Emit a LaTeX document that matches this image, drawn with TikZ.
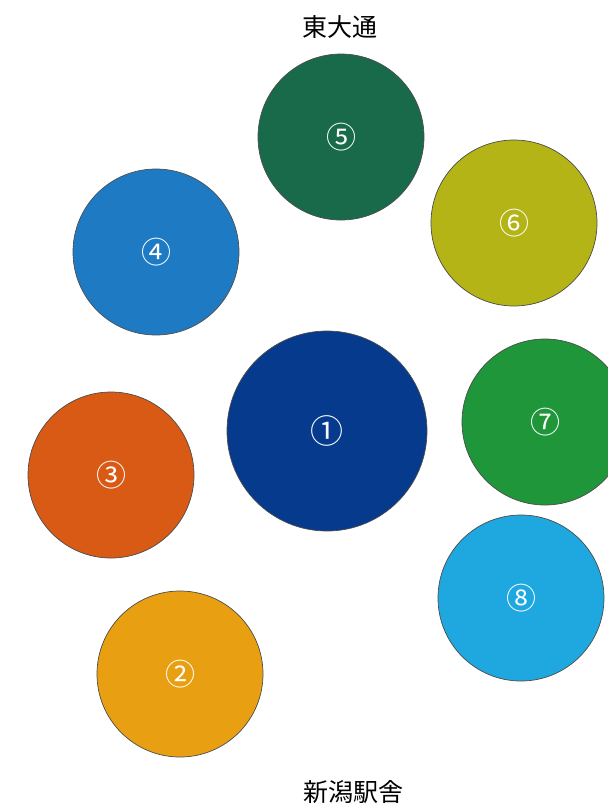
\documentclass[tikz,border=0pt]{standalone}
\usepackage{fontspec}
\setmainfont{Noto Sans CJK JP}
\definecolor{lotnavy}{HTML}{063A8C}
\definecolor{lotamber}{HTML}{E8A012}
\definecolor{lotorange}{HTML}{D85A14}
\definecolor{lotblue}{HTML}{1E7BC3}
\definecolor{lotforest}{HTML}{186A4B}
\definecolor{lotolive}{HTML}{B4B416}
\definecolor{lotgreen}{HTML}{1F963A}
\definecolor{lotsky}{HTML}{1FA8DF}
\begin{document}
\begin{tikzpicture}[x=1pt, y=-1pt,
  lot/.style={circle, draw=black!70, line width=0.7pt, text=white,
    inner sep=0pt, minimum size=166pt, font=\fontsize{30}{30}\selectfont},
  street/.style={font=\fontsize{25}{25}\selectfont}]
  \useasboundingbox (0,0) rectangle (608,807);
  \clip (0,0) rectangle (608,807);
  % street names
  \node[street] (north) at (340,27) {東大通};
  \node[street] (south) at (353,792) {新潟駅舎};
  % lots
  \node[lot, fill=lotnavy, minimum size=200pt,
    font=\fontsize{33}{33}\selectfont] (lot1) at (327,431) {①};
  \node[lot, fill=lotamber] (lot2) at (180,674) {②};
  \node[lot, fill=lotorange] (lot3) at (111,475) {③};
  \node[lot, fill=lotblue] (lot4) at (156,252) {④};
  \node[lot, fill=lotforest] (lot5) at (341,137) {⑤};
  \node[lot, fill=lotolive] (lot6) at (514,223) {⑥};
  \node[lot, fill=lotgreen] (lot7) at (545,422) {⑦};
  \node[lot, fill=lotsky] (lot8) at (521,598) {⑧};
\end{tikzpicture}
\end{document}
